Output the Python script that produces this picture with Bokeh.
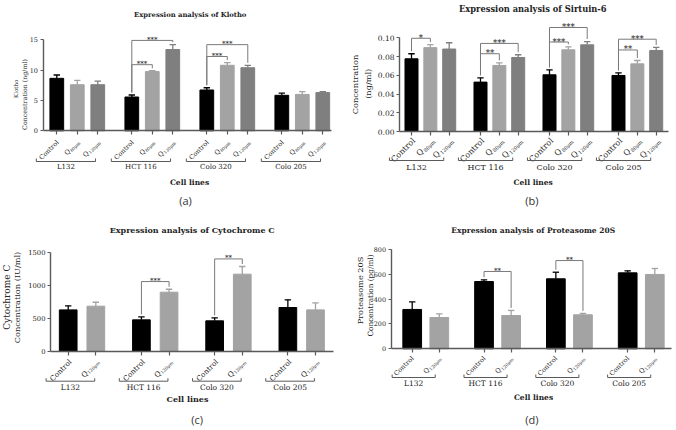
import math
from bokeh.plotting import figure
from bokeh.models import FixedTicker, NumeralTickFormatter, Range1d, CustomJSTickFormatter
from bokeh.layouts import column, row
from bokeh.embed import file_html
from bokeh.resources import INLINE
from bokeh.core.properties import value

cell_lines = ["L132", "HCT 116", "Colo 320", "Colo 205"]

# (a) Klotho, ng/ml
klotho_control = [8.65, 5.57, 6.73, 5.85]
klotho_control_sem = [0.55, 0.33, 0.37, 0.35]
klotho_q80 = [7.60, 9.76, 10.80, 6.00]
klotho_q80_sem = [0.70, 0.14, 0.45, 0.45]
klotho_q120 = [7.60, 13.40, 10.40, 6.30]
klotho_q120_sem = [0.60, 0.80, 0.40, 0.15]
# (cell line, from treatment, to treatment, bracket height, label)
klotho_sig = [(1, 0, 1, 10.9, "***"), (1, 0, 2, 14.9, "***"),
              (2, 0, 1, 12.25, "***"), (2, 0, 2, 14.2, "***")]

# (b) Sirtuin-6, ng/ml
sirt6_control = [0.0776, 0.0527, 0.0605, 0.0598]
sirt6_control_sem = [0.0054, 0.0046, 0.0053, 0.0028]
sirt6_q80 = [0.0895, 0.0705, 0.0872, 0.0722]
sirt6_q80_sem = [0.0033, 0.0028, 0.0032, 0.0036]
sirt6_q120 = [0.0880, 0.0790, 0.0925, 0.0865]
sirt6_q120_sem = [0.0067, 0.0029, 0.0035, 0.0032]
sirt6_sig = [(0, 0, 1, 0.0995, "*"), (1, 0, 1, 0.083, "**"), (1, 0, 2, 0.094, "***"),
             (2, 0, 1, 0.0955, "***"), (2, 0, 2, 0.111, "***"),
             (3, 0, 1, 0.087, "**"), (3, 0, 2, 0.0985, "***")]

# (c) Cytochrome C, IU/ml
cytc_control = [626, 475, 460, 662]
cytc_control_sem = [61, 45, 45, 116]
cytc_q120 = [682, 894, 1167, 626]
cytc_q120_sem = [60, 45, 116, 106]
cytc_sig = [(1, 0, 1, 1055, "***"), (2, 0, 1, 1398, "**")]

# (d) Proteasome 20S, pg/ml
prot_control = [317, 542, 564, 612]
prot_control_sem = [61, 14, 53, 16]
prot_q120 = [252, 268, 274, 599]
prot_q120_sem = [30, 41, 11, 48]
prot_sig = [(1, 0, 1, 623, "**"), (2, 0, 1, 711, "**")]

CONTROL = ("Control", "")
Q80 = ("Q", "80μm")
Q120 = ("Q", "120μm")

BLACK = "#000000"
LIGHT = "#a3a3a3"
DARK = "#7f7f7f"
AXIS = "#5a5a5a"
BRK = "#7a7a7a"
TXT = "#222222"
SERIF = "DejaVu Serif"
W, H = 338, 215


def sub_width(s, fs):
    w = {"0": 0.636, "1": 0.636, "2": 0.636, "8": 0.636, "μ": 0.64, "m": 0.95}
    return sum(w.get(c, 0.6) for c in s) * fs + 0.5


def build(cfg):
    series = cfg["series"]
    n = len(series)
    gap = cfg["gap"]
    last_pos = 3 * gap + (n - 1)
    f0, f1 = cfg["bars_px"]
    ppx = (f1 - f0) / last_pos
    B, ytop_px = cfg["y_px"]
    ytop = cfg["yticks"][-1]
    ppy = (B - ytop_px) / ytop

    def X(fx):
        return (fx - f0) / ppx

    def Y(fy):
        return (B - fy) / ppy

    p = figure(width=W, height=H, x_range=Range1d(X(0), X(W)), y_range=Range1d(Y(H), Y(0)),
               output_backend="svg", toolbar_location=None, tools="", title=None,
               min_border_left=0, min_border_right=0, min_border_top=0, min_border_bottom=0)
    p.outline_line_color = None
    p.xgrid.visible = False
    p.ygrid.visible = False
    p.background_fill_color = "white"
    p.border_fill_color = "white"

    positions = [[g * gap + i for g in range(4)] for i in range(n)]
    allpos = sorted(x for s in positions for x in s)
    L, Rax = cfg["axis_px"]

    ax = p.xaxis[0]
    ay = p.yaxis[0]
    ax.fixed_location = 0
    ax.bounds = (X(L), X(Rax))
    ax.ticker = FixedTicker(ticks=allpos)
    ax.formatter = CustomJSTickFormatter(code="return ''")
    ay.fixed_location = X(L)
    ay.ticker = FixedTicker(ticks=cfg["yticks"])
    ay.bounds = (0, ytop)
    if cfg.get("yfmt"):
        ay.formatter = NumeralTickFormatter(format=cfg["yfmt"])
    ay.major_label_text_font = SERIF
    ay.major_label_text_font_size = f"{cfg['ytick_fs']}px"
    ay.major_label_text_color = TXT
    ay.major_label_standoff = 2
    for a in (ax, ay):
        a.axis_line_color = AXIS
        a.axis_line_width = 1.4
        a.major_tick_line_color = AXIS
        a.major_tick_line_width = 1.2
        a.minor_tick_line_color = None
        a.major_tick_in = 0
    ax.major_tick_out = 4
    ay.major_tick_out = 3

    bw = cfg["bw"]
    cap = 3.2 / ppx
    for i, (vals, sems, color, lab) in enumerate(series):
        xp = positions[i]
        tops = [v + s for v, s in zip(vals, sems)]
        p.vbar(x=xp, top=vals, width=bw, fill_color=color, line_color=color, line_width=1)
        p.segment(x0=xp, y0=vals, x1=xp, y1=tops, line_color=color, line_width=1.3)
        p.segment(x0=[x - cap for x in xp], y0=tops, x1=[x + cap for x in xp], y1=tops,
                  line_color=color, line_width=1.3)

    def txt(x, y, t, fs, align="center", baseline="middle", angle=0, bold=False,
            font=SERIF, color=TXT):
        p.text(x=x, y=y, text=t, angle=angle, angle_units="deg", text_align=align,
               text_baseline=baseline, text_font=value(font), text_font_size=value(f"{fs}px"),
               text_font_style=value("bold" if bold else "normal"), text_color=color)

    # significance brackets
    gv = 2.5 / ppy
    sxs, sys_, stx, sty, stt = [], [], [], [], []
    for (g, a, b, lvl, t) in cfg["sig"]:
        xa = positions[a][g]
        xb = positions[b][g]
        ya = series[a][0][g] + series[a][1][g] + gv
        yb = series[b][0][g] + series[b][1][g] + gv
        sxs.append([xa, xa, xb, xb])
        sys_.append([ya, lvl, lvl, yb])
        stx.append((xa + xb) / 2)
        sty.append(lvl + 0.5 / ppy)
        stt.append(t)
    p.multi_line(sxs, sys_, line_color=BRK, line_width=1)
    txt(stx, sty, stt, cfg["star_fs"], baseline="alphabetic")

    # rotated tick labels
    c = s = math.sqrt(0.5)
    fs, fsub = cfg["tick_fs"], cfg["sub_fs"]
    ox, oy = cfg["tick_off"]
    drop = cfg["sub_drop"]
    for i, (vals, sems, color, lab) in enumerate(series):
        main, sub = lab
        xp = positions[i]
        if not sub:
            txt([x + ox / ppx for x in xp], [-oy / ppy] * 4, [main] * 4, fs,
                align="right", angle=45)
        else:
            w = sub_width(sub, fsub)
            txt([x + (ox - w * c) / ppx for x in xp], [(-oy - w * s) / ppy] * 4, [main] * 4, fs,
                align="right", angle=45)
            txt([x + (ox + drop * s) / ppx for x in xp], [(-oy - drop * c) / ppy] * 4,
                [sub] * 4, fsub, align="right", angle=45)

    # group brackets and names
    gy, glab_y = cfg["grp_px"]
    yb_ = Y(gy)
    yt_ = Y(gy - 3)
    gl, gr = cfg["grp_lr"]
    bxs, bys, gx = [], [], []
    for g in range(4):
        xa = positions[0][g] + gl
        xb = positions[-1][g] + gr
        bxs.append([xa, xa, xb, xb])
        bys.append([yt_, yb_, yb_, yt_])
        gx.append((xa + xb) / 2)
    p.multi_line(bxs, bys, line_color=AXIS, line_width=1)
    txt(gx, [Y(glab_y)] * 4, cell_lines, cfg["grp_fs"])

    # titles and labels
    tx, ty, tfs = cfg["title"]
    txt([X(tx)], [Y(ty)], [cfg["title_text"]], tfs, bold=True)
    for (t, fx, fy, f) in cfg["ylabels"]:
        txt([X(fx)], [Y(fy)], [t], f, angle=90)
    cx, cy, cfs = cfg["cell"]
    txt([X(cx)], [Y(cy)], ["Cell lines"], cfs, bold=True)
    lx, ly = cfg["letter"]
    txt([X(lx)], [Y(ly)], [cfg["letter_text"]], 11, font="Open Sans", color="#333333")
    return p


pa = build(dict(
    series=[(klotho_control, klotho_control_sem, BLACK, CONTROL),
            (klotho_q80, klotho_q80_sem, LIGHT, Q80),
            (klotho_q120, klotho_q120_sem, DARK, Q120)],
    gap=3.66, bars_px=(56.3, 322.3), y_px=(130.3, 39.3), axis_px=(42.5, 331),
    yticks=[0, 5, 10, 15], ytick_fs=6.5, bw=0.67, sig=klotho_sig, star_fs=7,
    tick_fs=6.5, sub_fs=4.3, tick_off=(1, 10.5), sub_drop=1.8,
    grp_px=(161, 166.5), grp_lr=(-1.0, -0.11), grp_fs=7,
    title=(189.7, 14.7, 6.8), title_text="Expression analysis of Klotho",
    ylabels=[("Klotho", 15, 88.3, 5.5), ("Concentration (ng/ml)", 24, 94, 6.3)],
    cell=(189, 182, 7.5), letter=(185, 200), letter_text="(a)"))

pb = build(dict(
    series=[(sirt6_control, sirt6_control_sem, BLACK, CONTROL),
            (sirt6_q80, sirt6_q80_sem, LIGHT, Q80),
            (sirt6_q120, sirt6_q120_sem, DARK, Q120)],
    gap=3.66, bars_px=(73, 317.7), y_px=(131, 37.3), axis_px=(61, 330),
    yticks=[0, 0.02, 0.04, 0.06, 0.08, 0.10], yfmt="0.00", ytick_fs=7.5,
    bw=0.69, sig=sirt6_sig, star_fs=8.5,
    tick_fs=8, sub_fs=5, tick_off=(2.5, 8), sub_drop=2.2,
    grp_px=(160, 166.7), grp_lr=(-1.17, -0.29), grp_fs=8,
    title=(194.3, 8, 8.3), title_text="Expression analysis of Sirtuin-6",
    ylabels=[("Concentration", 16.7, 84, 8.2), ("(ng/ml)", 29.3, 83.3, 8.2)],
    cell=(194.7, 181.7, 7.5), letter=(193.3, 200), letter_text="(b)"))

pc = build(dict(
    series=[(cytc_control, cytc_control_sem, BLACK, CONTROL),
            (cytc_q120, cytc_q120_sem, LIGHT, Q120)],
    gap=2.65, bars_px=(67.7, 315), y_px=(135.7, 36.7), axis_px=(50, 333),
    yticks=[0, 500, 1000, 1500], ytick_fs=6.8, bw=0.64, sig=cytc_sig, star_fs=7,
    tick_fs=7.2, sub_fs=4.5, tick_off=(2.2, 9.4), sub_drop=2,
    grp_px=(165.7, 172.3), grp_lr=(-0.8, -0.04), grp_fs=7.5,
    title=(191.7, 14.7, 8.0), title_text="Expression analysis of Cytochrome C",
    ylabels=[("Cytochrome C", 6, 81.7, 9), ("Concentration (IU/ml)", 16, 82, 8.2)],
    cell=(187, 183.3, 8), letter=(196.7, 204), letter_text="(c)"))

pd_ = build(dict(
    series=[(prot_control, prot_control_sem, BLACK, CONTROL),
            (prot_q120, prot_q120_sem, LIGHT, Q120)],
    gap=2.65, bars_px=(73.7, 316.3), y_px=(133.3, 34), axis_px=(52.5, 333),
    yticks=[0, 200, 400, 600, 800], ytick_fs=6.4, bw=0.69, sig=prot_sig, star_fs=7,
    tick_fs=6.5, sub_fs=4.5, tick_off=(0.5, 8.5), sub_drop=2,
    grp_px=(162, 168.3), grp_lr=(-0.74, -0.15), grp_fs=7.5,
    title=(194.7, 14.7, 7.5), title_text="Expression analysis of Proteasome 20S",
    ylabels=[("Proteasome 20S", 21.5, 75, 8.2), ("Concentration (pg/ml)", 32.3, 80, 7.3)],
    cell=(195, 182.3, 7.5), letter=(193.3, 204.3), letter_text="(d)"))

layout = column(row(pa, pb), row(pc, pd_))
open("out.html", "w").write(file_html(layout, INLINE, title="Expression analysis"))
